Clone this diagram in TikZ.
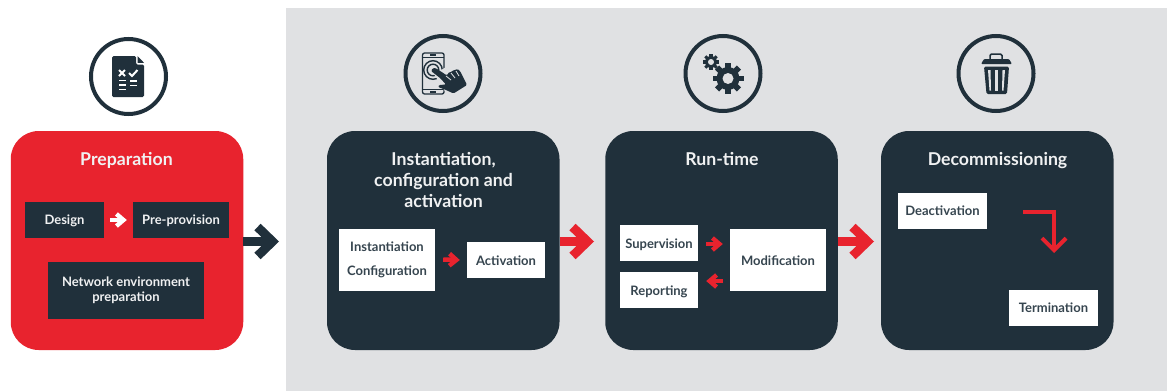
\documentclass[tikz,border=0pt]{standalone}
\usepackage{fontspec}
\setmainfont{Lato}
\usetikzlibrary{arrows.meta,calc}
\definecolor{ink}{HTML}{20303B}
\definecolor{crimson}{HTML}{E8232E}
\definecolor{panel}{HTML}{E0E1E3}
\definecolor{boxtext}{HTML}{36454F}
\definecolor{pale}{HTML}{F0F1F2}
\tikzset{
  x=1pt,y=-1pt,
  stage/.style={rounded corners=28,minimum height=219,minimum width=232.5,inner sep=0},
  stagetitle/.style={text=pale,font=\fontsize{17.7}{21}\selectfont\bfseries,align=center,inner sep=0},
  whitebox/.style={fill=white,text=boxtext,font=\fontsize{13}{15}\selectfont\bfseries,align=center,inner sep=0},
  darkbox/.style={fill=ink,text=pale,font=\fontsize{13}{15}\selectfont\bfseries,align=center,inner sep=0},
  oneline/.style={text height=10.4,text depth=0},
  capline/.style={text height=9.4,text depth=0},
  titleline/.style={text height=12.4,text depth=0},
  bigarrow/.style={line width=8.5,-{Straight Barb[length=15,width=29,line width=9]}},
  smallarrow/.style={line width=4.5,-{Straight Barb[length=7,width=12,line width=4.4]}},
  ring/.style={draw=ink,line width=4,circle,minimum size=75,inner sep=0},
}
\newcommand{\gearshape}[4]{% cx cy r hole
  \fill[ink] (#1,#2) circle (#3*0.74);
  \foreach \a in {0,45,...,315}{
    \draw[ink,line width=#3*0.38] ($(#1,#2)+(\a:#3*0.5)$) -- ($(#1,#2)+(\a:#3)$);
  }
  \fill[panel] (#1,#2) circle (#4);
}
\begin{document}
\begin{tikzpicture}
\useasboundingbox (0,0) rectangle (1167,391);
\fill[white] (0,0) rectangle (1167,391);
\fill[panel] (286,8) rectangle (1167,391);

% stages
\node[stage,fill=crimson] (prep) at (127,240.5) {};
\node[stage,fill=ink] (inst) at (443.25,240.5) {};
\node[stage,fill=ink] (run) at (721.5,240.5) {};
\node[stage,fill=ink] (decom) at (997.25,240.5) {};

% titles
\node[stagetitle,titleline] (prepT) at (126.5,159) {Preparation};
\node[stagetitle] (instT) at (443.5,180) {Instantiation,\\configuration and\\activation};
\node[stagetitle,titleline] (runT) at (722,159) {Run-time};
\node[stagetitle,titleline] (decomT) at (997.5,159) {Decommissioning};

% inner boxes
\node[darkbox,capline,minimum width=79,minimum height=36] (design) at (64.5,220) {Design};
\node[darkbox,capline,minimum width=96,minimum height=36] (prov) at (181,220) {Pre-provision};
\node[darkbox,minimum width=156,minimum height=57] (netw) at (126,290) {Network environment\\preparation};
\node[whitebox,minimum width=96,minimum height=62,font=\fontsize{13}{24}\selectfont\bfseries] (conf) at (387,259.5) {Instantiation\\Configuration};
\node[whitebox,oneline,minimum width=78,minimum height=36] (actv) at (506,260) {Activation};
\node[whitebox,oneline,minimum width=78,minimum height=36] (sup) at (659,243) {Supervision};
\node[whitebox,oneline,minimum width=78,minimum height=36] (rep) at (659,290) {Reporting};
\node[whitebox,oneline,minimum width=96,minimum height=62] (mod) at (778,260) {Modification};
\node[whitebox,capline,minimum width=89,minimum height=36] (deact) at (942.5,211) {Deactivation};
\node[whitebox,capline,minimum width=89,minimum height=36] (term) at (1053.5,308) {Termination};

% large connectors
\coordinate (e1) at (279,241.5);
\coordinate (e2) at (594,241.5);
\coordinate (e3) at (874,241.5);
\draw[bigarrow,ink] (prep.east |- e1) -- (e1);
\draw[bigarrow,crimson] (inst.east |- e2) -- (e2);
\draw[bigarrow,crimson] (run.east |- e3) -- (e3);

% small connectors
\draw[smallarrow,white] ($(design.east)+(6,0)$) -- ($(prov.west)+(-6,0)$);
\draw[smallarrow,crimson] ($(conf.east)+(8,0)$) -- ($(actv.west)+(-7,0)$);
\coordinate (s1) at (0,244);
\coordinate (s2) at (0,281);
\draw[smallarrow,crimson] ($(sup.east |- s1)+(8,0)$) -- ($(mod.west |- s1)+(-7,0)$);
\draw[smallarrow,crimson] ($(mod.west |- s2)+(-7,0)$) -- ($(rep.east |- s2)+(8,0)$);
\coordinate (el0) at (1023,212);
\coordinate (el1) at (1054,253);
\draw[crimson,line width=4,miter limit=10,-{Straight Barb[length=12,width=24,line width=4]}] (el0) -| (el1);

% icon 1: checklist
\node[ring] (icA) at (128.5,76.5) {};
\fill[ink,rounded corners=1.5] (112,56) -- (136,56) -- (136,64.5) -- (144,64.5) -- (144,97) -- (112,97) -- cycle;
\fill[ink] (137.5,56) -- (144,62.8) -- (137.5,62.8) -- cycle;
\draw[white,line width=2] (119,70) -- (125,76) (125,70) -- (119,76);
\draw[white,line width=2] (129,73) -- (132,76) -- (137.5,70);
\draw[white,line width=1.7] (119,80.5) -- (126,80.5) (119,85) -- (126,85) (119,89.5) -- (126,89.5)
  (130,81) -- (137,81) (130,85.5) -- (137,85.5);

% icon 2: phone and hand
\node[ring] (icB) at (443,73.5) {};
\draw[ink,line width=1.3,rounded corners=2] (422.5,53) rectangle (444,94);
\draw[ink,line width=1.3] (422.5,57.5) -- (444,57.5) (422.5,89.5) -- (444,89.5);
\draw[ink,line width=1.6] (430,91.7) -- (436,91.7) (430,55.2) -- (436,55.2);
\draw[ink,line width=1.4] (433,70) circle (9.3);
\draw[ink,line width=1.4] (433,70) circle (5.8);
\fill[panel] (434,74) -- (448,66) -- (462,84) -- (448,96) -- cycle;
\fill[ink,rounded corners=1.2] (433,68) -- (435.5,68) -- (447,75.5) -- (449,72) -- (452,72) -- (453,70) -- (456,70) -- (457.5,69) -- (460,71) -- (467,85) -- (453.5,93.5) -- (446,90) -- (438,87) -- (439,85) -- (446,84.5) -- (440,78) -- (431,71) -- cycle;
\draw[panel,line width=0.8] (446,76) -- (451,80) (451,73) -- (455,78) (456,71) -- (459,76);

% icon 3: gears
\node[ring] (icC) at (723,73.5) {};
\gearshape{711}{62}{8}{3}
\gearshape{728}{78.5}{15.5}{5.5}

% icon 4: bin
\node[ring] (icD) at (996,73.5) {};
\draw[ink,line width=1.5,rounded corners=1.5] (990,59.5) -- (990,54) -- (1002,54) -- (1002,59.5);
\fill[ink,rounded corners=1] (984,59) -- (1009,59) -- (1012,64) -- (981,64) -- cycle;
\fill[ink,rounded corners=1.5] (984,66.5) -- (1009,66.5) -- (1007,94) -- (986.5,94) -- cycle;
\fill[panel] (988,70) -- (990.5,70) -- (991,90.5) -- (989.5,90.5) -- cycle;
\fill[panel] (995.2,70) -- (997.8,70) -- (997.8,90.5) -- (995.2,90.5) -- cycle;
\fill[panel] (1002.5,70) -- (1005,70) -- (1003.5,90.5) -- (1002,90.5) -- cycle;
\end{tikzpicture}
\end{document}
